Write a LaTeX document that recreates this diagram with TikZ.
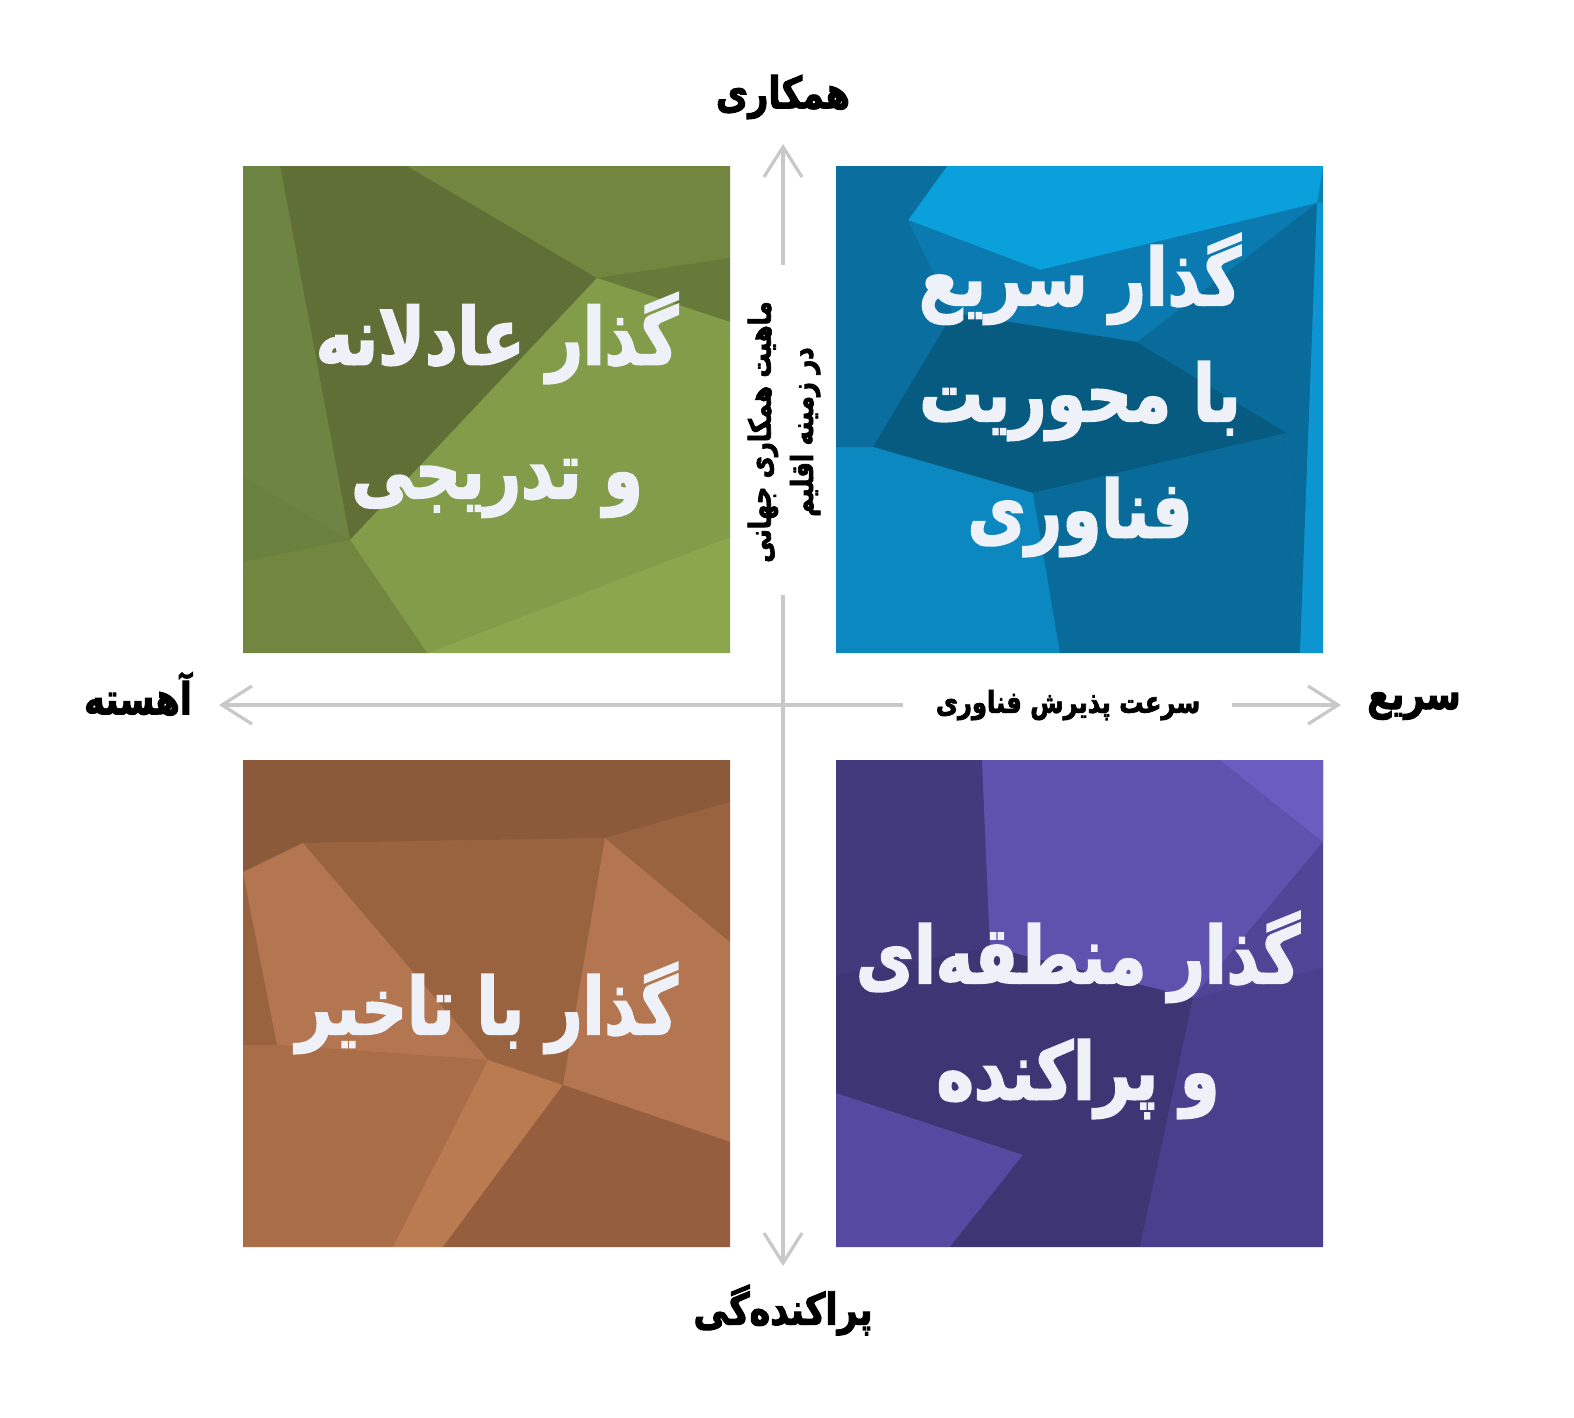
\documentclass[tikz,border=0pt]{standalone}
\usepackage{fontspec}
\newfontfamily\farsifont[Script=Arabic, FakeStretch=0.8, BoldFeatures={FakeBold=2.2}]{DejaVu Sans}
\TeXXeTstate=1
\usetikzlibrary{arrows.meta, positioning}
\newcommand{\rl}[1]{\beginR #1\endR}

% square colours
\definecolor{gbase}{HTML}{6F8A3F}
\definecolor{gdark}{HTML}{5F6F35}
\definecolor{gleft}{HTML}{6E8442}
\definecolor{gtop}{HTML}{72863F}
\definecolor{gwedge}{HTML}{677A39}
\definecolor{glight}{HTML}{839C4A}
\definecolor{gcorner}{HTML}{8CA64E}
\definecolor{glow}{HTML}{6A803E}
\definecolor{bbase}{HTML}{0A80B5}
\definecolor{bbright}{HTML}{0AA0DC}
\definecolor{bleft}{HTML}{0A6E9E}
\definecolor{bmid}{HTML}{0A7AB0}
\definecolor{bdark}{HTML}{075A80}
\definecolor{bright}{HTML}{086B99}
\definecolor{bstrip}{HTML}{0C95D0}
\definecolor{blow}{HTML}{0B88C0}
\definecolor{rbase}{HTML}{9A6340}
\definecolor{rtop}{HTML}{8B5A3A}
\definecolor{rlight}{HTML}{B47650}
\definecolor{rlow}{HTML}{A96D47}
\definecolor{rstrip}{HTML}{BA7B51}
\definecolor{rdark}{HTML}{955E3E}
\definecolor{pbase}{HTML}{4A3F8C}
\definecolor{pdark}{HTML}{423A7D}
\definecolor{plight}{HTML}{5E52AE}
\definecolor{pcorner}{HTML}{6A5CC0}
\definecolor{pdeep}{HTML}{3E3575}
\definecolor{pmid}{HTML}{4F4496}
\definecolor{plow}{HTML}{5649A1}
\definecolor{titlewhite}{HTML}{EEF1F7}
\definecolor{axisgray}{HTML}{C8C8C8}

\begin{document}
\begin{tikzpicture}[x=0.01cm, y=-0.01cm,
    quad/.style={text=titlewhite, font=\farsifont\bfseries\fontsize{22.5}{33}\selectfont, align=center},
    axisend/.style={font=\farsifont\bfseries\fontsize{12.5}{15}\selectfont},
    axistitle/.style={font=\farsifont\bfseries\fontsize{8.6}{12}\selectfont, align=center},
    axis/.style={draw=axisgray, line width=0.9pt, -{Straight Barb[length=3mm, width=3.8mm]}}]

    \useasboundingbox (0,0) rectangle (1574,1417);
    \fill[white] (0,0) rectangle (1574,1417);

    % green square (top left)
    \fill[gbase] (243,166) rectangle (730,653);
    \fill[gdark] (280,166) -- (407,166) -- (597,278) -- (350,540) -- cycle;
    \fill[gleft] (243,166) -- (280,166) -- (350,540) -- (243,477) -- cycle;
    \fill[gtop] (407,166) -- (730,166) -- (730,258) -- (597,278) -- cycle;
    \fill[gwedge] (597,278) -- (730,258) -- (730,322) -- cycle;
    \fill[glight] (597,278) -- (730,322) -- (730,537) -- (427,653) -- (350,540) -- cycle;
    \fill[gcorner] (730,537) -- (730,653) -- (427,653) -- cycle;
    \fill[glow] (243,477) -- (350,540) -- (243,562) -- cycle;
    \fill[gtop] (243,562) -- (350,540) -- (427,653) -- (243,653) -- cycle;

    % blue square (top right)
    \fill[bbase] (836,166) rectangle (1323,653);
    \fill[bbright] (947,166) -- (1323,166) -- (1317,203) -- (1040,270) -- (908,220) -- cycle;
    \fill[bleft] (836,166) -- (947,166) -- (908,220) -- (836,183) -- cycle;
    \fill[bleft] (836,183) -- (908,220) -- (953,313) -- (873,447) -- (836,447) -- cycle;
    \fill[bmid] (908,220) -- (1040,270) -- (1317,203) -- (1137,342) -- (953,313) -- cycle;
    \fill[bdark] (953,313) -- (1137,342) -- (1287,433) -- (1033,493) -- (873,447) -- cycle;
    \fill[bright] (1137,342) -- (1317,203) -- (1300,653) -- (1287,433) -- cycle;
    \fill[bstrip] (1317,203) -- (1323,203) -- (1323,653) -- (1300,653) -- cycle;
    \fill[blow] (836,447) -- (873,447) -- (1033,493) -- (1060,653) -- (836,653) -- cycle;
    \fill[bright] (1033,493) -- (1287,433) -- (1300,653) -- (1060,653) -- cycle;

    % brown square (bottom left)
    \fill[rbase] (243,760) rectangle (730,1247);
    \fill[rtop] (243,760) -- (730,760) -- (730,802) -- (605,838) -- (303,843) -- (243,872) -- cycle;
    \fill[rbase] (303,843) -- (605,838) -- (563,1085) -- (488,1060) -- cycle;
    \fill[rlight] (605,838) -- (730,942) -- (730,1142) -- (563,1085) -- cycle;
    \fill[rbase] (605,838) -- (730,802) -- (730,942) -- cycle;
    \fill[rlight] (303,843) -- (488,1060) -- (277,1045) -- (243,872) -- cycle;
    \fill[rlow] (243,1045) -- (277,1045) -- (488,1060) -- (393,1247) -- (243,1247) -- cycle;
    \fill[rstrip] (488,1060) -- (563,1085) -- (443,1247) -- (393,1247) -- cycle;
    \fill[rdark] (563,1085) -- (730,1142) -- (730,1247) -- (443,1247) -- cycle;

    % purple square (bottom right)
    \fill[pbase] (836,760) rectangle (1323,1247);
    \fill[pdark] (836,760) -- (982,760) -- (990,947) -- (836,975) -- cycle;
    \fill[plight] (982,760) -- (1323,760) -- (1323,842) -- (1193,998) -- (990,947) -- cycle;
    \fill[pcorner] (1220,760) -- (1323,760) -- (1323,842) -- cycle;
    \fill[pdeep] (990,947) -- (1193,998) -- (1023,1155) -- (836,1093) -- (836,975) -- cycle;
    \fill[pbase] (1193,998) -- (1323,968) -- (1323,1098) -- cycle;
    \fill[pmid] (1323,842) -- (1323,968) -- (1193,998) -- cycle;
    \fill[plow] (836,1093) -- (1023,1155) -- (950,1247) -- (836,1247) -- cycle;
    \fill[pdeep] (1023,1155) -- (1193,998) -- (1140,1247) -- (950,1247) -- cycle;
    \fill[pbase] (1193,998) -- (1323,1098) -- (1323,1247) -- (1140,1247) -- cycle;

    % quadrant titles
    \node[quad, font=\farsifont\bfseries\fontsize{22.5}{38}\selectfont] (fair) at (497,405) {\rl{گذار عادلانه}\\\rl{و تدریجی}};
    \node[quad] (fasttech) at (1080,395) {\rl{گذار سریع}\\\rl{با محوریت}\\\rl{فناوری}};
    \node[quad] (delayed) at (487,1008) {\rl{گذار با تاخیر}};
    \node[quad] (regional) at (1078,1015) {\rl{گذار منطقه‌ای}\\\rl{و پراکنده}};

    % axis ends
    \node[axisend] (coop) at (783,97) {\rl{همکاری}};
    \node[axisend] (scatter) at (783,1310) {\rl{پراکنده‌گی}};
    \node[axisend] (slow) at (138,694) {\rl{آهسته}};
    \node[axisend] (fast) at (1414,706) {\rl{سریع}};

    % axis titles
    \node[axistitle] (speed) at (1068,705) {\rl{سرعت پذیرش فناوری}};
    \node[axistitle, rotate=90] (nature) at (784,432) {\rl{ماهیت همکاری جهانی}\\\rl{در زمینه اقلیم}};

    % axes
    \coordinate (upstart) at (783,265);
    \coordinate (uptip) at (783,144);
    \coordinate (downstart) at (783,595);
    \coordinate (downtip) at (783,1266);
    \coordinate (leftstart) at (903,705);
    \coordinate (lefttip) at (219,705);
    \coordinate (rightstart) at (1232,705);
    \coordinate (righttip) at (1341,705);
    \draw[axis] (upstart) -- (uptip);
    \draw[axis] (downstart) -- (downtip);
    \draw[axis] (leftstart) -- (lefttip);
    \draw[axis] (rightstart) -- (righttip);
\end{tikzpicture}
\end{document}
